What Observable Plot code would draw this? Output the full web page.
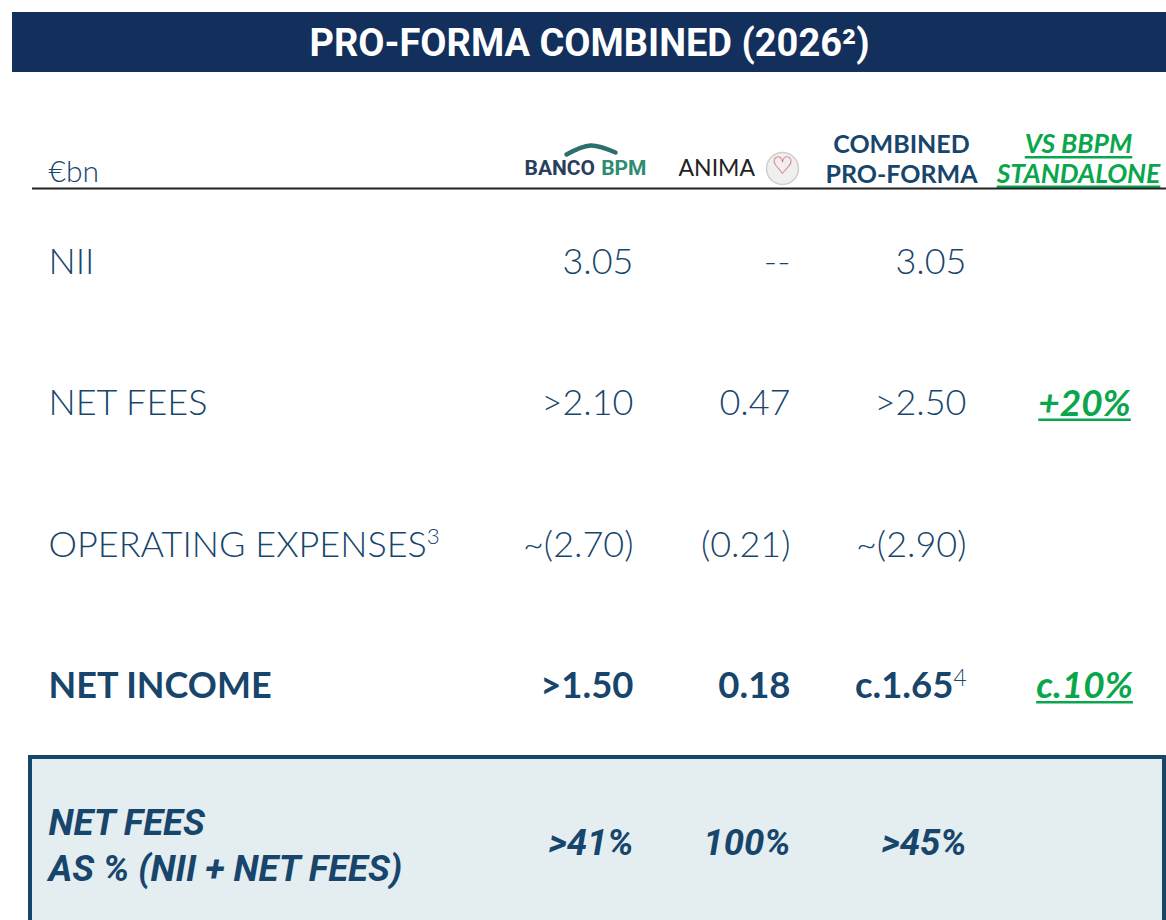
<!DOCTYPE html>
<html><head><meta charset="utf-8">
<script src="https://cdn.jsdelivr.net/npm/d3@7"></script>
<script src="https://cdn.jsdelivr.net/npm/@observablehq/plot@0.6"></script>
<style>html,body{margin:0;padding:0;background:#fff;}</style>
</head><body><div id="chart"></div>
<script>
// ---------- DATA ----------
const title = "PRO-FORMA COMBINED (2026²)";
const unitLabel = "€bn";
const combinedHeader = "COMBINED\nPRO-FORMA";
const vsHeader = "VS BBPM\nSTANDALONE";
const rowLabels = ["NII", "NET FEES", "OPERATING EXPENSES^3", "NET INCOME"];
const boldRows = [false, false, false, true];
const bbpmValues = ["3.05", ">2.10", "~(2.70)", ">1.50"];
const animaValues = ["--", "0.47", "(0.21)", "0.18"];
const combinedValues = ["3.05", ">2.50", "~(2.90)", "c.1.65^4"];
const vsValues = ["", "+20%", "", "c.10%"];
const ratioLabel = "NET FEES\nAS % (NII + NET FEES)";
const ratioValues = [">41%", "100%", ">45%"];

// ---------- STYLE / LAYOUT ----------
const navy = "#17456b", titleBg = "#132f5b", green = "#0aa64c";
const light = "Lato", boldF = "Lato", cond = "Roboto";
const col = {label: 48, bbpm: 633, anima: 790, combined: 966, vs: 1084};
const rowY = d3.scalePoint().domain(d3.range(rowLabels.length)).range([262, 686]);

const rows = rowLabels.map((label, i) => ({
  i, label, bold: boldRows[i],
  bbpm: bbpmValues[i], anima: animaValues[i], combined: combinedValues[i], vs: vsValues[i]
}));
const reg = rows.filter(d => !d.bold), bld = rows.filter(d => d.bold);

function valueMarks(data, weight) {
  const common = {y: d => rowY(d.i), fill: navy, fontFamily: weight === 700 ? boldF : light,
    fontWeight: weight, fontSize: weight === 700 ? 36.5 : 36, textAnchor: "end"};
  return [
    Plot.text(data, {...common, x: () => col.label, text: "label", textAnchor: "start", fontSize: 36}),
    Plot.text(data, {...common, x: () => col.bbpm, text: "bbpm"}),
    Plot.text(data, {...common, x: () => col.anima, text: "anima"}),
    Plot.text(data, {...common, x: () => col.combined, text: "combined"})
  ];
}

const chart = Plot.plot({
  width: 1166, height: 920, margin: 0,
  x: {type: "identity", axis: null}, y: {type: "identity", axis: null},
  style: {background: "#fff"},
  marks: [
    // title bar
    Plot.rect([title], {x1: () => 12, x2: () => 1166, y1: () => 12, y2: () => 72, fill: titleBg}),
    Plot.text([title], {x: () => 589, y: () => 43, text: d => d, fill: "#fff",
      fontFamily: cond, fontWeight: 700, fontSize: 38}),
    // header
    Plot.text([unitLabel], {x: () => 48, y: () => 172, text: d => d, fill: navy,
      fontFamily: light, fontWeight: 300, fontSize: 30, textAnchor: "start"}),
    Plot.line([[566, 154], [590, 145], [615, 152]], {x: d => d[0], y: d => d[1], curve: "natural",
      stroke: "#2b6f6e", strokeWidth: 4.5}),
    Plot.text(["BANCO"], {x: () => 524, y: () => 168, text: d => d, fill: "#2b3d5c",
      fontFamily: cond, fontWeight: 700, fontSize: 21, textAnchor: "start"}),
    Plot.text(["BPM"], {x: () => 646, y: () => 168, text: d => d, fill: "#2e8b74",
      fontFamily: cond, fontWeight: 700, fontSize: 21, textAnchor: "end"}),
    Plot.text(["ANIMA"], {x: () => 678, y: () => 168, text: d => d, fill: "#222",
      fontFamily: light, fontWeight: 400, fontSize: 23, textAnchor: "start"}),
    Plot.dot(["ANIMA"], {x: () => 782, y: () => 168, r: 16, fill: "#efefef", stroke: "#cfcfcf", strokeWidth: 1.5}),
    Plot.text(["♡"], {x: () => 782, y: () => 166, text: d => d, fill: "#d8262f",
      fontFamily: "DejaVu Sans", fontSize: 24}),
    Plot.text([combinedHeader], {x: () => 901, y: () => 158, text: d => d, fill: navy,
      fontFamily: boldF, fontWeight: 700, fontSize: 25, lineHeight: 1.2}),
    Plot.text([vsHeader], {x: () => 1078, y: () => 158, text: d => d, fill: green,
      fontFamily: boldF, fontWeight: 700, fontStyle: "italic", fontSize: 26.5, lineHeight: 1.12}),
    Plot.ruleY([188], {x1: () => 32, x2: () => 1166, stroke: "#222", strokeWidth: 2}),
    // body rows
    ...valueMarks(reg, 300),
    ...valueMarks(bld, 700),
    Plot.text(rows.filter(d => d.vs), {x: () => col.vs, y: d => rowY(d.i), text: "vs", fill: green,
      fontFamily: boldF, fontWeight: 700, fontStyle: "italic", fontSize: 37}),
    // ratio box
    Plot.rect([ratioLabel], {x1: () => 30, x2: () => 1164, y1: () => 757, y2: () => 924,
      fill: "#e4edf0", stroke: "#16466a", strokeWidth: 4}),
    Plot.text([ratioLabel], {x: () => 48, y: () => 843, text: d => d, fill: navy, textAnchor: "start",
      fontFamily: cond, fontWeight: 700, fontStyle: "italic", fontSize: 36.5, lineHeight: 1.24}),
    Plot.text(ratioValues, {x: (d, i) => [col.bbpm, col.anima, col.combined][i], y: () => 843,
      text: d => d, fill: navy, textAnchor: "end",
      fontFamily: cond, fontWeight: 700, fontStyle: "italic", fontSize: 36.5})
  ]
});

// superscripts (^n)
d3.select(chart).selectAll("text").each(function() {
  const t = d3.select(this);
  if (this.childElementCount === 0 && this.textContent.includes("^")) {
    const [main, sup] = this.textContent.split("^");
    t.text(main);
    t.append("tspan").attr("dy", "-0.55em").attr("font-size", "0.62em")
      .attr("font-weight", 300).text(sup);
  }
});

document.getElementById("chart").appendChild(chart);

// underlines under the green (comparison) texts, drawn after layout so the text extent is known
d3.select(chart).selectAll("g").filter(function() {
  return (this.getAttribute("fill") || "").toLowerCase() === green;
}).each(function() {
  const g = this;
  d3.select(g).selectAll("text").each(function() {
    const tspans = this.querySelectorAll("tspan");
    const parts = tspans.length ? Array.from(tspans) : [this];
    const tf = this.getAttribute("transform");
    for (const p of parts) {
      const n = p.getNumberOfChars();
      if (!n) continue;
      const s = p.getStartPositionOfChar(0), e = p.getEndPositionOfChar(n - 1);
      d3.select(g).append("line").attr("transform", tf)
        .attr("x1", s.x).attr("x2", e.x).attr("y1", s.y + 4).attr("y2", s.y + 4)
        .attr("stroke", green).attr("stroke-width", 2.5);
    }
  });
});
</script>
</body></html>
